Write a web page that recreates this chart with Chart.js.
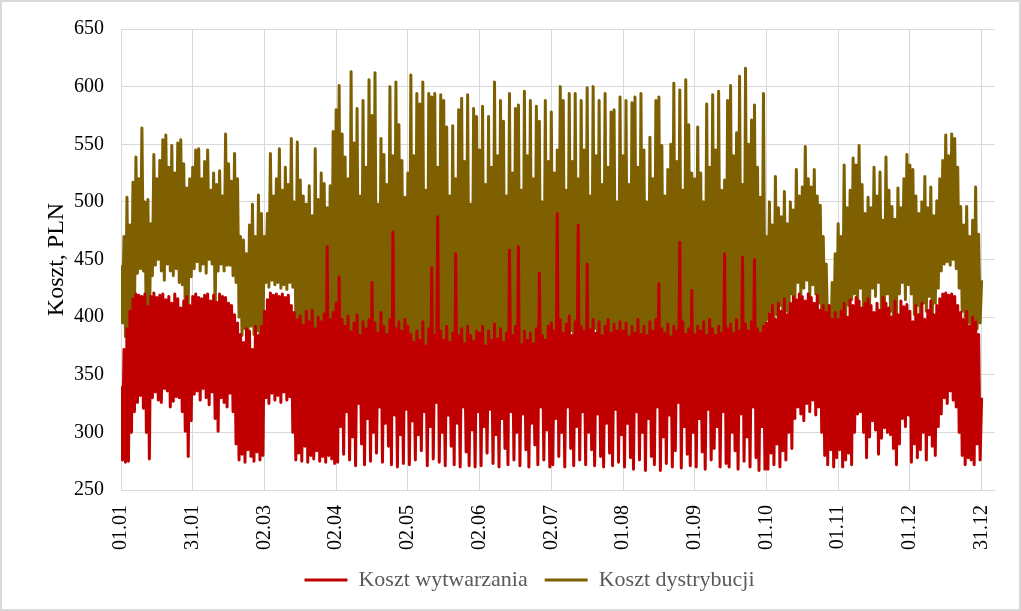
<!DOCTYPE html>
<html>
<head>
<meta charset="utf-8">
<script src="https://cdn.jsdelivr.net/npm/chart.js@4.4.0/dist/chart.umd.min.js"></script>
<style>
    html, body { margin: 0; padding: 0; background: #fff; }
    #wrap { width: 1021px; height: 611px; }
</style>
</head>
<body>
<div id="wrap"><canvas id="costChart" width="1021" height="611"></canvas></div>
<script>
// x axis labels, one every 730 h
var tickLabels = ['01.01', '31.01', '02.03', '02.04', '02.05', '02.06', '02.07',
    '01.08', '01.09', '01.10', '01.11', '01.12', '31.12'];

// Koszt wytwarzania, PLN - 48 readings per 730 h block
var productionCost = [
    340, 276, 372, 274, 390, 275, 405, 300, 416, 318, 420, 326, 419, 332, 418, 321, 420, 300, 409, 277, 418, 330, 421, 335,
    417, 328, 419, 326, 420, 338, 415, 336, 418, 322, 412, 327, 420, 331, 416, 330, 408, 318, 414, 301, 418, 279, 410, 310,
    418, 333, 420, 336, 417, 328, 416, 338, 419, 330, 420, 324, 414, 335, 419, 312, 413, 301, 420, 330, 418, 326, 417, 322,
    412, 334, 410, 318, 402, 290, 395, 276, 385, 281, 378, 274, 390, 285, 388, 279, 372, 275, 392, 283, 384, 276, 392, 280,
    405, 330, 415, 325, 421, 334, 419, 328, 420, 332, 418, 326, 420, 335, 417, 328, 419, 331, 410, 300, 404, 276, 398, 282,
    401, 275, 393, 288, 405, 274, 396, 280, 406, 277, 390, 284, 400, 275, 396, 279, 403, 274, 461, 280, 398, 277, 404, 273,
    412, 274, 435, 305, 398, 281, 392, 318, 401, 276, 387, 296, 395, 271, 402, 325, 384, 290, 396, 272, 390, 312, 398, 275,
    430, 300, 395, 282, 386, 322, 404, 274, 392, 308, 385, 288, 398, 272, 474, 315, 390, 270, 396, 298, 388, 273, 398, 320,
    392, 272, 385, 310, 378, 276, 388, 298, 380, 284, 396, 318, 375, 271, 390, 305, 443, 277, 384, 326, 487, 274, 388, 300,
    380, 271, 392, 315, 378, 288, 386, 272, 455, 308, 384, 270, 390, 322, 377, 283, 392, 271, 384, 302, 379, 270, 388, 318,
    386, 271, 392, 305, 375, 282, 388, 320, 380, 273, 394, 298, 381, 270, 390, 312, 378, 286, 386, 272, 458, 318, 384, 276,
    392, 300, 461, 271, 376, 316, 388, 285, 380, 270, 386, 308, 377, 289, 390, 272, 438, 322, 384, 276, 380, 302, 392, 270,
    395, 272, 388, 312, 490, 279, 398, 300, 386, 270, 394, 322, 401, 286, 384, 271, 396, 305, 480, 276, 392, 318, 388, 272,
    446, 300, 389, 285, 398, 271, 386, 316, 396, 279, 384, 270, 392, 308, 398, 282, 386, 271, 394, 320, 388, 274, 396, 298,
    388, 270, 395, 308, 383, 278, 392, 268, 386, 318, 398, 276, 385, 300, 392, 267, 384, 312, 396, 279, 388, 272, 398, 322,
    429, 267, 390, 296, 386, 273, 394, 315, 383, 270, 392, 284, 388, 326, 465, 269, 396, 305, 385, 281, 390, 271, 423, 300,
    385, 270, 392, 312, 388, 283, 396, 268, 384, 320, 398, 276, 390, 286, 384, 305, 392, 270, 386, 318, 455, 273, 390, 270,
    394, 300, 386, 284, 398, 268, 388, 316, 452, 275, 394, 296, 388, 270, 396, 322, 450, 278, 390, 267, 386, 305, 392, 268,
    395, 268, 403, 282, 410, 272, 398, 290, 412, 270, 405, 284, 416, 276, 402, 300, 412, 286, 418, 312, 415, 322, 420, 316,
    418, 310, 414, 325, 420, 318, 417, 328, 412, 315, 419, 322, 406, 300, 410, 280, 404, 272, 410, 285, 398, 270, 404, 278,
    398, 285, 405, 270, 412, 276, 400, 282, 415, 272, 410, 300, 417, 316, 414, 318, 408, 300, 412, 278, 416, 296, 410, 310,
    404, 302, 412, 281, 406, 295, 417, 304, 412, 300, 408, 298, 400, 286, 414, 272, 402, 290, 414, 312, 409, 305, 411, 315,
    405, 274, 396, 290, 410, 278, 402, 285, 412, 300, 398, 276, 406, 298, 414, 288, 402, 280, 410, 305, 416, 316, 420, 330,
    421, 325, 419, 336, 420, 328, 418, 322, 410, 300, 404, 280, 398, 272, 405, 278, 392, 276, 400, 272, 396, 290, 385, 276,
    330
];

// Koszt dystrybucji, PLN
var distributionCost = [
    445, 395, 470, 383, 504, 386, 480, 392, 517, 400, 539, 438, 520, 442, 564, 440, 500, 384, 502, 390, 481, 436, 541, 445,
    520, 450, 536, 440, 554, 432, 558, 446, 530, 440, 549, 436, 525, 442, 551, 430, 554, 428, 533, 405, 512, 410, 520, 435,
    530, 442, 545, 448, 546, 440, 520, 446, 535, 438, 545, 450, 510, 446, 525, 403, 515, 440, 527, 446, 505, 440, 559, 445,
    533, 445, 518, 436, 542, 430, 520, 400, 470, 384, 467, 390, 455, 383, 480, 392, 498, 385, 470, 388, 506, 382, 490, 390,
    470, 430, 490, 426, 542, 432, 505, 428, 520, 430, 546, 425, 510, 428, 530, 424, 515, 430, 555, 426, 500, 400, 552, 384,
    519, 378, 505, 390, 498, 383, 514, 376, 488, 372, 546, 380, 502, 385, 525, 376, 516, 380, 495, 372, 514, 383, 561, 390,
    580, 383, 601, 378, 559, 372, 539, 380, 520, 376, 613, 370, 551, 384, 581, 375, 505, 372, 588, 380, 530, 376, 606, 370,
    575, 382, 612, 374, 498, 378, 555, 370, 541, 380, 515, 374, 600, 372, 540, 380, 604, 376, 567, 372, 536, 380, 504, 378,
    525, 372, 610, 368, 540, 365, 594, 372, 585, 362, 604, 370, 510, 366, 594, 374, 591, 362, 594, 370, 530, 366, 593, 375,
    588, 362, 565, 370, 505, 366, 566, 372, 520, 362, 580, 370, 590, 365, 535, 372, 593, 366, 498, 370, 581, 364, 574, 368,
    545, 368, 583, 362, 515, 370, 574, 364, 530, 372, 604, 365, 540, 362, 588, 370, 570, 364, 505, 372, 594, 365, 525, 370,
    581, 362, 584, 368, 510, 372, 596, 364, 540, 370, 588, 362, 520, 368, 583, 372, 570, 364, 500, 370, 588, 362, 535, 370,
    578, 385, 525, 380, 545, 390, 600, 378, 588, 385, 510, 380, 594, 388, 535, 379, 594, 384, 520, 378, 588, 386, 545, 380,
    599, 385, 505, 378, 600, 390, 540, 382, 588, 380, 515, 386, 594, 378, 530, 384, 578, 380, 580, 386, 500, 380, 591, 384,
    540, 375, 588, 368, 515, 372, 586, 365, 591, 370, 530, 366, 594, 372, 545, 364, 500, 370, 556, 366, 520, 372, 588, 364,
    591, 370, 549, 366, 505, 372, 528, 364, 550, 370, 603, 366, 535, 372, 597, 368, 510, 364, 606, 370, 567, 366, 525, 372,
    520, 376, 565, 380, 525, 372, 500, 378, 585, 370, 530, 376, 593, 368, 545, 375, 596, 370, 510, 377, 519, 372, 588, 380,
    601, 372, 540, 378, 560, 370, 609, 376, 515, 368, 616, 375, 550, 370, 571, 377, 584, 372, 530, 380, 504, 383, 594, 380,
    470, 398, 500, 405, 480, 395, 522, 402, 495, 410, 487, 398, 509, 405, 481, 395, 500, 420, 493, 410, 528, 430, 505, 420,
    513, 425, 548, 432, 520, 418, 513, 428, 528, 420, 505, 412, 497, 400, 470, 392, 446, 384, 409, 372, 430, 375, 455, 383,
    481, 356, 470, 385, 532, 400, 495, 410, 510, 415, 538, 420, 532, 412, 549, 425, 515, 395, 490, 388, 504, 410, 495, 425,
    530, 418, 505, 430, 526, 400, 484, 412, 539, 420, 510, 405, 496, 388, 485, 400, 512, 420, 495, 430, 520, 415, 541, 428,
    532, 420, 528, 402, 505, 410, 490, 398, 500, 412, 522, 405, 495, 418, 513, 400, 488, 412, 501, 425, 520, 440, 536, 446,
    558, 448, 540, 445, 559, 450, 555, 442, 530, 425, 496, 405, 480, 400, 496, 395, 470, 392, 484, 398, 513, 390, 472, 395,
    432
];

var HOURS_PER_TICK = 730;
var hourStep = HOURS_PER_TICK * (tickLabels.length - 1) / (productionCost.length - 1);
var tickValues = tickLabels.map((t, i) => i * HOURS_PER_TICK);

var serif = '"Liberation Serif", "Times New Roman", serif';
var gridColor = '#d9d9d9';

function toPoints(values) {
    return values.map((v, i) => ({ x: i * hourStep, y: v }));
}

var frame = {
    id: 'frame',
    beforeDraw: function (chart) {
        var ctx = chart.ctx;
        ctx.save();
        ctx.fillStyle = '#fff';
        ctx.fillRect(0, 0, chart.width, chart.height);
        ctx.restore();
    },
    afterDraw: function (chart) {
        var ctx = chart.ctx;
        ctx.save();
        ctx.strokeStyle = '#d9d9d9';
        ctx.lineWidth = 2;
        ctx.strokeRect(1, 1, chart.width - 2, chart.height - 2);
        ctx.restore();
    }
};

var ctx = document.getElementById('costChart').getContext('2d');
var costChart = new Chart(ctx, {
    type: 'line',
    data: {
        datasets: [
            {
                label: 'Koszt wytwarzania',
                data: toPoints(productionCost),
                borderColor: '#C00000',
                backgroundColor: '#C00000',
                borderWidth: 3,
                borderJoinStyle: 'round',
                pointRadius: 0,
                tension: 0
            },
            {
                label: 'Koszt dystrybucji',
                data: toPoints(distributionCost),
                borderColor: '#7F6000',
                backgroundColor: '#7F6000',
                borderWidth: 3,
                borderJoinStyle: 'round',
                pointRadius: 0,
                tension: 0
            }
        ]
    },
    options: {
        responsive: false,
        animation: false,
        devicePixelRatio: 1,
        layout: { padding: { top: 29, left: 38, right: 0, bottom: 10 } },
        plugins: {
            tooltip: { enabled: false },
            legend: {
                position: 'bottom',
                labels: {
                    usePointStyle: true,
                    pointStyle: 'line',
                    pointStyleWidth: 43,
                    padding: 17,
                    color: '#595959',
                    font: { family: serif, size: 22 }
                }
            }
        },
        scales: {
            x: {
                type: 'linear',
                min: 0,
                max: 8892,
                afterBuildTicks: function (scale) {
                    scale.ticks = tickValues.map(v => ({ value: v }));
                },
                afterFit: function (scale) { scale.height = 62; },
                grid: { color: gridColor, drawTicks: false },
                border: { color: gridColor },
                ticks: {
                    autoSkip: false,
                    minRotation: 90,
                    maxRotation: 90,
                    padding: 15,
                    color: '#000',
                    font: { family: serif, size: 20 },
                    callback: function (value, index) { return tickLabels[index]; }
                }
            },
            y: {
                min: 250,
                max: 650,
                afterFit: function (scale) { scale.width = 83; },
                grid: { color: gridColor, drawTicks: false },
                border: { color: gridColor },
                ticks: {
                    stepSize: 50,
                    padding: 17,
                    color: '#000',
                    font: { family: serif, size: 20 }
                },
                title: {
                    display: true,
                    text: 'Koszt, PLN',
                    color: '#000',
                    font: { family: serif, size: 24 }
                }
            },
            yRight: {
                position: 'right',
                afterFit: function (scale) { scale.width = 26; },
                grid: { display: false },
                border: { display: false },
                ticks: { display: false }
            }
        }
    },
    plugins: [frame]
});
</script>
</body>
</html>
